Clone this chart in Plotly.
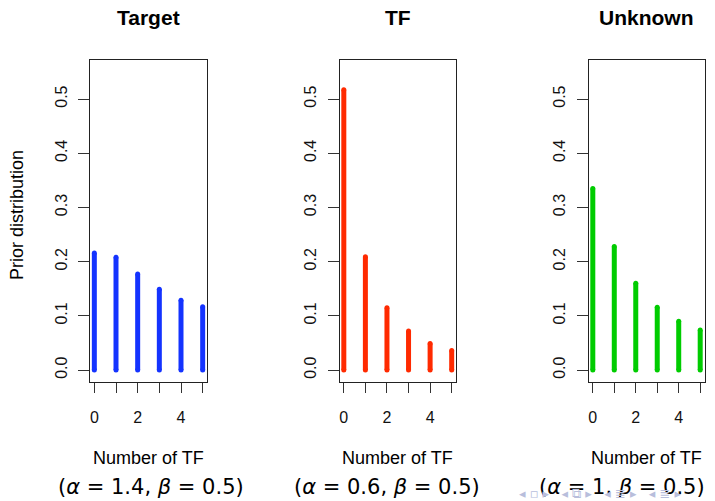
import plotly.graph_objects as go

# ---- data ----
counts = [0, 1, 2, 3, 4, 5]
target_vals = [0.216, 0.208, 0.177, 0.149, 0.129, 0.117]
tf_vals = [0.517, 0.209, 0.115, 0.072, 0.049, 0.036]
unknown_vals = [0.335, 0.228, 0.160, 0.116, 0.090, 0.074]
panel_titles = ["Target", "TF", "Unknown"]
param_labels = ["(<i>α</i> = 1.4, <i>β</i> = 0.5)", "(<i>α</i> = 0.6, <i>β</i> = 0.5)", "(<i>α</i> = 1, <i>β</i> = 0.5)"]
x_tick_vals = [0, 1, 2, 3, 4, 5]
x_tick_text = ["0", "", "2", "", "4", ""]
y_tick_vals = [0.0, 0.1, 0.2, 0.3, 0.4, 0.5]
y_tick_text = ["0.0", "0.1", "0.2", "0.3", "0.4", "0.5"]
colors = ["#1433ff", "#ff2a00", "#00cc00"]
series = [target_vals, tf_vals, unknown_vals]

W, H = 715, 501
x_domains = [(90 / W, 207 / W), (339.5 / W, 456 / W), (588.5 / W, 704.5 / W)]
y_domain = (1 - 382 / H, 1 - 60 / H)

fig = go.Figure()
font_fam = "Liberation Sans, Arial, sans-serif"

for i, (vals, col) in enumerate(zip(series, colors)):
    xs, ys = [], []
    for c, v in zip(counts, vals):
        xs += [c, c, None]
        ys += [0, v, None]
    ax = "" if i == 0 else str(i + 1)
    fig.add_trace(go.Scatter(x=xs, y=ys, mode="lines", line=dict(color=col, width=5),
                             xaxis="x" + ax, yaxis="y" + ax, showlegend=False, hoverinfo="skip"))
    # round caps
    fig.add_trace(go.Scatter(x=counts + counts, y=list(vals) + [0] * len(vals), mode="markers",
                             marker=dict(color=col, size=5, line=dict(width=0)),
                             xaxis="x" + ax, yaxis="y" + ax, showlegend=False, hoverinfo="skip"))

    xa = dict(domain=list(x_domains[i]), range=[-0.2, 5.2], tickmode="array",
              tickvals=x_tick_vals, ticktext=x_tick_text, ticks="outside", ticklen=10,
              tickcolor="#333", showline=True, mirror=True, linecolor="#222", linewidth=1,
              showgrid=False, zeroline=False, anchor="y" + ax, ticklabelstandoff=11,
              tickfont=dict(family=font_fam, size=16, color="#111"), fixedrange=True)
    ya = dict(domain=list(y_domain), range=[-0.022, 0.572], tickmode="array",
              tickvals=y_tick_vals, ticktext=y_tick_text, ticks="outside", ticklen=11,
              tickcolor="#333", showline=True, mirror=True, linecolor="#222", linewidth=1,
              showgrid=False, zeroline=False, anchor="x" + ax, tickangle=-90,
              ticklabelstandoff=5,
              tickfont=dict(family=font_fam, size=16, color="#111"), fixedrange=True)
    fig.update_layout(**{"xaxis" + ax: xa, "yaxis" + ax: ya})

    xc = (x_domains[i][0] + x_domains[i][1]) / 2
    fig.add_annotation(text="<b>" + panel_titles[i] + "</b>", x=xc, y=1 - 17 / H,
                       xref="paper", yref="paper", showarrow=False, xanchor="center", yanchor="middle",
                       font=dict(family=font_fam, size=21, color="#000"))
    fig.add_annotation(text="Number of TF", x=xc, y=1 - 458 / H,
                       xref="paper", yref="paper", showarrow=False, xanchor="center", yanchor="middle",
                       font=dict(family=font_fam, size=18, color="#000"))

param_x = [151, 387, 622]
for lbl, px in zip(param_labels, param_x):
    fig.add_annotation(text=lbl, x=px / W, y=1 - 487 / H, xref="paper", yref="paper",
                       showarrow=False, xanchor="center", yanchor="middle",
                       font=dict(family="DejaVu Sans, sans-serif", size=21, color="#000"))

fig.add_annotation(text="Prior distribution", x=17 / W, y=1 - 215 / H, xref="paper", yref="paper",
                   showarrow=False, textangle=-90, xanchor="center", yanchor="middle",
                   font=dict(family=font_fam, size=18, color="#000"))

# beamer navigation symbols (faint)
fig.add_annotation(text="◂ ▫ ▸   ◂ ⧉ ▸   ◂ ≣ ▸   ◂ ≣ ▸", x=600 / W, y=1 - 493 / H,
                   xref="paper", yref="paper", showarrow=False, xanchor="center", yanchor="middle",
                   font=dict(family="DejaVu Sans, sans-serif", size=13, color="#b8bedc"))

fig.update_layout(width=W, height=H, margin=dict(l=0, r=0, t=0, b=0),
                  paper_bgcolor="white", plot_bgcolor="white")

fig.write_html("out.html", config={"displayModeBar": False},
               post_script="document.body.style.margin='0';")
